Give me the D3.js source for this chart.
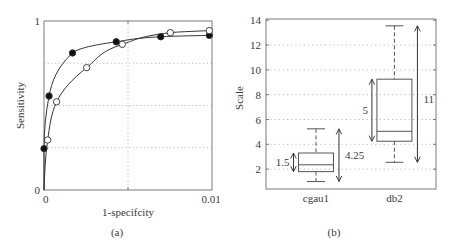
<!DOCTYPE html>
<html>
<head>
<meta charset="utf-8">
<script src="https://cdn.jsdelivr.net/npm/d3@7"></script>
<style>
  body { margin: 0; background: #fff; }
  svg text { font-family: "Liberation Serif", "Times New Roman", serif; fill: #3a3a3a; }
</style>
</head>
<body>
<div id="chart"></div>
<script>
// panel (a): ROC curves
var filledX = [0, 0, 0.0003, 0.0017, 0.0043, 0.00695, 0.00984];
var filledY = [0, 0.245, 0.556, 0.811, 0.877, 0.907, 0.915];
var filledMarked = [false, true, true, true, true, true, true];
var openX = [0, 0.00022, 0.00075, 0.00254, 0.00466, 0.00752, 0.00984];
var openY = [0, 0.296, 0.522, 0.724, 0.862, 0.931, 0.943];
var openMarked = [false, true, true, true, true, true, true];
var rocXTicks = ["0", "0.01"];
var rocXTickVals = [0, 0.01];
var rocYTicks = [0, 1];
var rocXGrid = [0.005];
var rocYGrid = [0.25, 0.5, 0.75];

// panel (b): box plots
var boxCats = ["cgau1", "db2"];
var boxLow = [1.0, 2.55];
var boxQ1 = [1.8, 4.25];
var boxMed = [2.35, 5.05];
var boxQ3 = [3.3, 9.25];
var boxHigh = [5.25, 13.55];
var boxYTicks = [2, 4, 6, 8, 10, 12, 14];
var boxIqrLabel = ["1.5", "5"];
var boxRangeLabel = ["4.25", "11"];

var W = 456, H = 246;
var frameColor = "#7a7a7a", lineColor = "#333", gridColor = "#aaa";

var svg = d3.select("#chart").append("svg")
    .attr("width", W)
    .attr("height", H)
    .attr("font-family", "'Liberation Serif', 'Times New Roman', serif");

// ---------- panel (a) ----------
var a = { left: 44, right: 212, top: 21, bottom: 190 };
var xA = d3.scaleLinear().domain([0, 0.01]).range([a.left, a.right]);
var yA = d3.scaleLinear().domain([0, 1]).range([a.bottom, a.top]);

var gA = svg.append("g");

gA.selectAll(".vgrid").data(rocXGrid).enter().append("line")
    .attr("x1", d => xA(d)).attr("x2", d => xA(d))
    .attr("y1", a.top).attr("y2", a.bottom)
    .attr("stroke", gridColor).attr("stroke-width", 0.8)
    .attr("stroke-dasharray", "1.2,2.5");

gA.selectAll(".hgrid").data(rocYGrid).enter().append("line")
    .attr("x1", a.left).attr("x2", a.right)
    .attr("y1", d => yA(d)).attr("y2", d => yA(d))
    .attr("stroke", gridColor).attr("stroke-width", 0.8)
    .attr("stroke-dasharray", "1.2,2.5");

gA.append("rect")
    .attr("x", a.left).attr("y", a.top)
    .attr("width", a.right - a.left).attr("height", a.bottom - a.top)
    .attr("fill", "none").attr("stroke", frameColor).attr("stroke-width", 1);

// small tick marks at grid positions
gA.selectAll(".tkx").data(rocXGrid).enter().append("line")
    .attr("x1", d => xA(d)).attr("x2", d => xA(d))
    .attr("y1", a.bottom).attr("y2", a.bottom - 3)
    .attr("stroke", frameColor);
gA.selectAll(".tkx2").data(rocXGrid).enter().append("line")
    .attr("x1", d => xA(d)).attr("x2", d => xA(d))
    .attr("y1", a.top).attr("y2", a.top + 3)
    .attr("stroke", frameColor);

gA.selectAll(".xlab").data(rocXTickVals).enter().append("text")
    .attr("x", d => xA(d)).attr("y", a.bottom + 13)
    .attr("text-anchor", (d, i) => i === 0 ? "start" : "middle")
    .attr("dx", (d, i) => i === 0 ? -1 : -1)
    .style("font-size", "11px")
    .text((d, i) => rocXTicks[i]);

gA.selectAll(".ylab").data(rocYTicks).enter().append("text")
    .attr("x", a.left - 4).attr("y", d => yA(d) + 4)
    .attr("text-anchor", "end")
    .style("font-size", "11px")
    .text(d => d);

gA.append("text")
    .attr("x", (a.left + a.right) / 2).attr("y", a.bottom + 26)
    .attr("text-anchor", "middle")
    .style("font-size", "11px")
    .text("1-specifcity");

gA.append("text")
    .attr("transform", "translate(24," + ((a.top + a.bottom) / 2) + ") rotate(-90)")
    .attr("text-anchor", "middle")
    .style("font-size", "11px")
    .text("Sensitivity");

gA.append("text")
    .attr("x", 117).attr("y", 236)
    .attr("text-anchor", "middle")
    .style("font-size", "11px")
    .text("(a)");

var line = d3.line()
    .x(d => xA(d[0]))
    .y(d => yA(d[1]))
    .curve(d3.curveMonotoneY);

var series = [
    { xs: filledX, ys: filledY, marked: filledMarked, fill: "#111" },
    { xs: openX, ys: openY, marked: openMarked, fill: "#fff" }
];

series.forEach(function (s) {
    var pts = s.xs.map((x, i) => [x, s.ys[i]]);
    gA.append("path")
        .datum(pts)
        .attr("d", line)
        .attr("fill", "none")
        .attr("stroke", lineColor)
        .attr("stroke-width", 1);
});

series.forEach(function (s) {
    var pts = s.xs.map((x, i) => [x, s.ys[i], s.marked[i]]).filter(d => d[2]);
    gA.selectAll(null).data(pts).enter().append("circle")
        .attr("cx", d => xA(d[0]))
        .attr("cy", d => yA(d[1]))
        .attr("r", 3.2)
        .attr("fill", s.fill)
        .attr("stroke", lineColor)
        .attr("stroke-width", 0.9);
});

// ---------- panel (b) ----------
var b = { left: 266, right: 436, top: 19, bottom: 189 };
var xB = d3.scaleLinear().domain([0.363, 2.53]).range([b.left, b.right]);
var yB = d3.scaleLinear().domain([0.4, 14.1]).range([b.bottom, b.top]);

var gB = svg.append("g");

gB.selectAll(".hgrid").data(boxYTicks.filter(d => d < 14)).enter().append("line")
    .attr("x1", b.left).attr("x2", b.right)
    .attr("y1", d => yB(d)).attr("y2", d => yB(d))
    .attr("stroke", gridColor).attr("stroke-width", 0.8)
    .attr("stroke-dasharray", "1.2,3");

gB.append("rect")
    .attr("x", b.left).attr("y", b.top)
    .attr("width", b.right - b.left).attr("height", b.bottom - b.top)
    .attr("fill", "none").attr("stroke", frameColor).attr("stroke-width", 1);

gB.selectAll(".tkl").data(boxYTicks).enter().append("line")
    .attr("x1", b.left).attr("x2", b.left + 3)
    .attr("y1", d => yB(d)).attr("y2", d => yB(d))
    .attr("stroke", frameColor);
gB.selectAll(".tkr").data(boxYTicks).enter().append("line")
    .attr("x1", b.right).attr("x2", b.right - 3)
    .attr("y1", d => yB(d)).attr("y2", d => yB(d))
    .attr("stroke", frameColor);

gB.selectAll(".ylab").data(boxYTicks).enter().append("text")
    .attr("x", b.left - 5).attr("y", d => yB(d) + 4)
    .attr("text-anchor", "end")
    .style("font-size", "11px")
    .text(d => d);

gB.selectAll(".xlab").data(boxCats).enter().append("text")
    .attr("x", (d, i) => xB(i + 1)).attr("y", b.bottom + 13)
    .attr("text-anchor", "middle")
    .style("font-size", "11px")
    .text(d => d);

gB.append("text")
    .attr("transform", "translate(243," + 98 + ") rotate(-90)")
    .attr("text-anchor", "middle")
    .style("font-size", "11px")
    .text("Scale");

gB.append("text")
    .attr("x", 334).attr("y", 236)
    .attr("text-anchor", "middle")
    .style("font-size", "11px")
    .text("(b)");

var boxW = 35, capW = 18;
var defs = svg.append("defs");
["start", "end"].forEach(function (k) {
    defs.append("marker")
        .attr("id", "arr-" + k)
        .attr("viewBox", "0 0 10 10")
        .attr("refX", k === "end" ? 9 : 1).attr("refY", 5)
        .attr("markerWidth", 7).attr("markerHeight", 7)
        .attr("markerUnits", "userSpaceOnUse")
        .attr("orient", "auto")
        .append("path")
        .attr("d", k === "end" ? "M1,1 L9,5 L1,9" : "M9,1 L1,5 L9,9")
        .attr("fill", "none").attr("stroke", lineColor).attr("stroke-width", 1.3);
});

boxCats.forEach(function (c, i) {
    var cx = xB(i + 1);
    // whiskers
    gB.append("line")
        .attr("x1", cx).attr("x2", cx)
        .attr("y1", yB(boxHigh[i])).attr("y2", yB(boxQ3[i]))
        .attr("stroke", "#555").attr("stroke-dasharray", "4,2.5");
    gB.append("line")
        .attr("x1", cx).attr("x2", cx)
        .attr("y1", yB(boxQ1[i])).attr("y2", yB(boxLow[i]))
        .attr("stroke", "#555").attr("stroke-dasharray", "4,2.5");
    [boxHigh[i], boxLow[i]].forEach(function (v) {
        gB.append("line")
            .attr("x1", cx - capW / 2).attr("x2", cx + capW / 2)
            .attr("y1", yB(v)).attr("y2", yB(v))
            .attr("stroke", "#555");
    });
    gB.append("rect")
        .attr("x", cx - boxW / 2).attr("y", yB(boxQ3[i]))
        .attr("width", boxW).attr("height", yB(boxQ1[i]) - yB(boxQ3[i]))
        .attr("fill", "none").attr("stroke", "#555");
    gB.append("line")
        .attr("x1", cx - boxW / 2).attr("x2", cx + boxW / 2)
        .attr("y1", yB(boxMed[i])).attr("y2", yB(boxMed[i]))
        .attr("stroke", "#555");

    // double arrows
    var ax1 = cx - boxW / 2 - 5;
    var ax2 = cx + 23;
    gB.append("line")
        .attr("x1", ax1).attr("x2", ax1)
        .attr("y1", yB(boxQ3[i])).attr("y2", yB(boxQ1[i]))
        .attr("stroke", lineColor)
        .attr("marker-start", "url(#arr-start)").attr("marker-end", "url(#arr-end)");
    gB.append("line")
        .attr("x1", ax2).attr("x2", ax2)
        .attr("y1", yB(boxHigh[i])).attr("y2", yB(boxLow[i]))
        .attr("stroke", lineColor)
        .attr("marker-start", "url(#arr-start)").attr("marker-end", "url(#arr-end)");
    gB.append("text")
        .attr("x", ax1 - 4).attr("y", (yB(boxQ3[i]) + yB(boxQ1[i])) / 2 + 4)
        .attr("text-anchor", "end")
        .style("font-size", "11px")
        .text(boxIqrLabel[i]);
    gB.append("text")
        .attr("x", ax2 + 6)
        .attr("y", i === 0 ? yB(boxQ3[i]) + 6 : (yB(boxHigh[i]) + yB(boxLow[i])) / 2 + 9)
        .attr("text-anchor", "start")
        .style("font-size", "11px")
        .text(boxRangeLabel[i]);
});
</script>
</body>
</html>
